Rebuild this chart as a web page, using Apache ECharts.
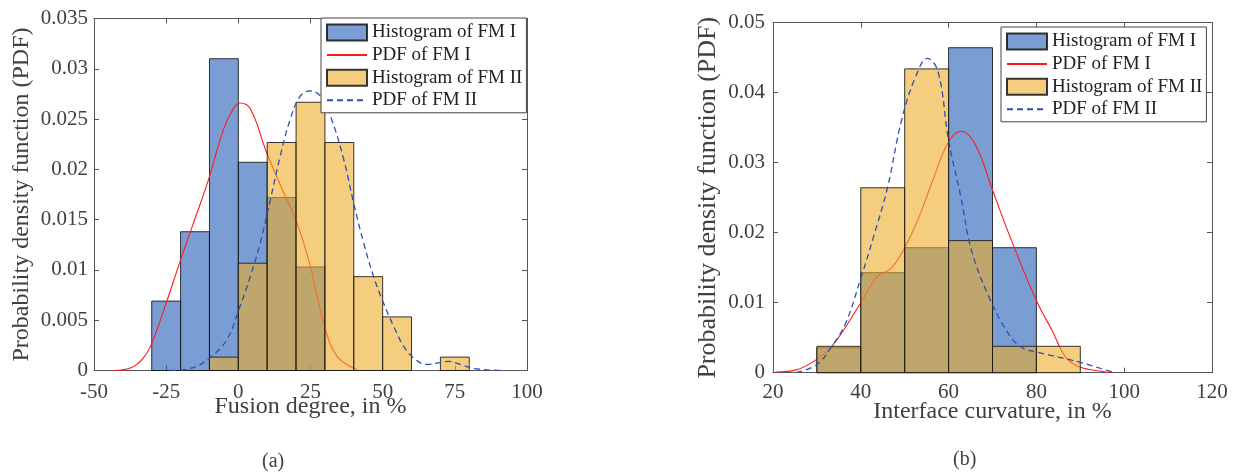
<!DOCTYPE html>
<html>
<head>
<meta charset="utf-8">
<script src="https://cdn.jsdelivr.net/npm/echarts@6/dist/echarts.min.js"></script>
<style>
  html, body { margin: 0; padding: 0; background: #fff; }
  #chart { width: 1237px; height: 473px; }
</style>
</head>
<body>
<div id="chart"></div>
<script>
// ---- (a) Fusion degree ----
const binEdgesA = [-30, -20, -10, 0, 10, 20, 30, 40, 50, 60, 70, 80];
const histFM1A = [0.0069, 0.0138, 0.031, 0.0207, 0.0172, 0.0103, 0, 0, 0, 0, 0];
const histFM2A = [0, 0, 0.00133, 0.01067, 0.02267, 0.02667, 0.02267, 0.00933, 0.00533, 0, 0.00133];
const pdfFM1A_x = [-43, -37, -33, -30, -25, -20, -15.5, -10.3, -5.1, -1.6, 0.6, 4.2, 9.9, 15.7, 20.3, 24.9, 29.6, 34.2, 41];
const pdfFM1A_y = [0, 0.0003, 0.0012, 0.0027, 0.0067, 0.011, 0.0147, 0.019, 0.024, 0.0261, 0.0266, 0.026, 0.0216, 0.0177, 0.0147, 0.0104, 0.0047, 0.0014, 0.0001];
const pdfFM2A_x = [-23.6, -16.6, -9.7, -3.9, 0.1, 4.2, 7.6, 11.1, 14.5, 18, 21.5, 24.9, 28.4, 31.9, 36.5, 39.9, 43.4, 46.8, 50.3, 53.8, 57.3, 61.3, 65.4, 70, 72.9, 76.9, 81.5, 90.8];
const pdfFM2A_y = [0, 0.0002, 0.0013, 0.0031, 0.006, 0.0094, 0.0127, 0.017, 0.0213, 0.025, 0.0273, 0.0278, 0.0273, 0.0253, 0.021, 0.0167, 0.0127, 0.0094, 0.0067, 0.0044, 0.0024, 0.0011, 0.0006, 0.0008, 0.0009, 0.0006, 0.0002, 0];

// ---- (b) Interface curvature ----
const binEdgesB = [30, 40, 50, 60, 70, 80, 90];
const histFM1B = [0.00357, 0.01429, 0.01786, 0.04643, 0.01786, 0];
const histFM2B = [0.00377, 0.02642, 0.0434, 0.01887, 0.00377, 0.00377];
const pdfFM1B_x = [20.6, 25.3, 29.7, 33.3, 36.5, 40.1, 43.7, 46.9, 50.1, 53.3, 56.4, 60, 62.8, 66, 70, 74, 80, 83.6, 86.7, 89.9, 94.7, 97.1];
const pdfFM1B_y = [0.0001, 0.0004, 0.0018, 0.0037, 0.0065, 0.0101, 0.0137, 0.0149, 0.018, 0.0223, 0.0275, 0.033, 0.0345, 0.0327, 0.0261, 0.0194, 0.0103, 0.006, 0.0022, 0.0008, 0.0002, 0];
const pdfFM2B_x = [25.3, 30.1, 33.3, 36.5, 40.1, 42.9, 46.1, 49.3, 52.5, 55.2, 57.6, 60, 62.8, 65.2, 69.2, 73.2, 76.4, 80.4, 85.2, 89.9, 94.7, 97.9];
const pdfFM2B_y = [0, 0.0012, 0.0037, 0.007, 0.0137, 0.0194, 0.0265, 0.0361, 0.0423, 0.0449, 0.043, 0.0332, 0.0251, 0.0175, 0.0108, 0.006, 0.0037, 0.0029, 0.0022, 0.0015, 0.0006, 0];

const xTicksA = { min: -50, max: 100, interval: 25 };
const yTicksA = { min: 0, max: 0.035, interval: 0.005 };
const xTicksB = { min: 20, max: 120, interval: 20 };
const yTicksB = { min: 0, max: 0.05, interval: 0.01 };

const names = ['Histogram of FM I', 'PDF of FM I', 'Histogram of FM II', 'PDF of FM II'];

const SERIF = '"Liberation Serif", "Times New Roman", serif';
const TEXT = '#404040';
const AXIS = '#555';
const BLUE = 'rgba(33, 93, 183, 0.6)';
const ORANGE = 'rgba(236, 172, 40, 0.6)';
const EDGE = 'rgba(20, 20, 20, 0.85)';
const RED = '#ff1a1a';
const DASH_BLUE = '#2f4fb0';

function binData(edges, values) {
  const out = [];
  for (let i = 0; i < values.length; i++) {
    if (values[i] > 0) out.push([edges[i], edges[i + 1], values[i]]);
  }
  return out;
}
function pairs(xs, ys) { return xs.map((x, i) => [x, ys[i]]); }

function histSeries(name, edges, values, color, axisIdx, z) {
  return {
    type: 'custom', name, xAxisIndex: axisIdx, yAxisIndex: axisIdx, z,
    itemStyle: { color, borderColor: EDGE, borderWidth: 1 },
    encode: { x: [0, 1], y: 2 },
    data: binData(edges, values),
    renderItem(params, api) {
      const p0 = api.coord([api.value(0), api.value(2)]);
      const p1 = api.coord([api.value(1), 0]);
      return {
        type: 'rect',
        shape: { x: p0[0], y: p0[1], width: p1[0] - p0[0], height: p1[1] - p0[1] },
        style: { fill: color, stroke: EDGE, lineWidth: 1 }
      };
    }
  };
}
function pdfSeries(name, xs, ys, color, dashed, axisIdx, z) {
  return {
    type: 'line', name, xAxisIndex: axisIdx, yAxisIndex: axisIdx, z,
    symbol: 'none', smooth: 0.4,
    lineStyle: { color, width: dashed ? 1.3 : 1.1, type: dashed ? [6, 4] : 'solid' },
    itemStyle: { color },
    data: pairs(xs, ys)
  };
}

function xAxes(grid, ticks, title, gap, margin) {
  const common = {
    gridIndex: grid, type: 'value', ...ticks,
    splitLine: { show: false },
    axisLine: { show: true, onZero: false, lineStyle: { color: AXIS, width: 1 } },
    axisTick: { show: true, inside: true, length: 5, lineStyle: { color: AXIS } }
  };
  return [
    { ...common, position: 'bottom', name: title, nameLocation: 'middle', nameGap: gap, nameMoveOverlap: false,
      nameTextStyle: { fontFamily: SERIF, fontSize: 24, color: TEXT },
      axisLabel: { show: true, margin, fontFamily: SERIF, fontSize: 21, color: TEXT, showMinLabel: true, showMaxLabel: true } },
    { ...common, position: 'top', axisLabel: { show: false } }
  ];
}
function yAxes(grid, ticks, title, gap, margin, titleSize) {
  const common = {
    gridIndex: grid, type: 'value', ...ticks,
    splitLine: { show: false },
    axisLine: { show: true, onZero: false, lineStyle: { color: AXIS, width: 1 } },
    axisTick: { show: true, inside: true, length: 5, lineStyle: { color: AXIS } }
  };
  return [
    { ...common, position: 'left', name: title, nameLocation: 'middle', nameGap: gap, nameMoveOverlap: false,
      nameTextStyle: { fontFamily: SERIF, fontSize: titleSize, color: TEXT },
      axisLabel: { show: true, margin, fontFamily: SERIF, fontSize: 21, color: TEXT, showMinLabel: true, showMaxLabel: true,
        formatter: v => String(+v.toFixed(3)) } },
    { ...common, position: 'right', axisLabel: { show: false } }
  ];
}

function legendAt(left, top) {
  // line entries keep only their stroke in the key (no marker dot)
  const lineKey = { opacity: 0 };
  return {
    left, top, orient: 'vertical', z: 20,
    itemWidth: 40, itemHeight: 16, itemGap: 3.6,
    padding: [5, 4, 3, 5],
    borderColor: '#444', borderWidth: 1, borderRadius: 0, backgroundColor: '#fff',
    selectedMode: false,
    textStyle: { fontFamily: SERIF, fontSize: 19, color: '#222', lineHeight: 19 },
    data: [
      { name: names[0], icon: 'rect' },
      { name: names[1], itemStyle: lineKey },
      { name: names[2], icon: 'rect' },
      { name: names[3], itemStyle: lineKey }
    ]
  };
}

const chart = echarts.init(document.getElementById('chart'), null, { renderer: 'canvas' });
chart.setOption({
  animation: false,
  backgroundColor: '#fff',
  grid: [
    { left: 94, top: 18.5, width: 433, height: 352 },
    { left: 773, top: 22.7, width: 439, height: 350 }
  ],
  xAxis: [
    ...xAxes(0, xTicksA, 'Fusion degree, in %', 24, 11),
    ...xAxes(1, xTicksB, 'Interface curvature, in %', 27, 9)
  ],
  yAxis: [
    ...yAxes(0, yTicksA, 'Probability density function (PDF)', 60, 6, 24),
    ...yAxes(1, yTicksB, 'Probability density function (PDF)', 52, 8, 26)
  ],
  legend: [legendAt(321, 18), legendAt(1001, 27)],
  graphic: [
    { type: 'text', left: 262, top: 452, style: { text: '(a)', font: '20px ' + SERIF, fill: TEXT } },
    { type: 'text', left: 953, top: 450, style: { text: '(b)', font: '20px ' + SERIF, fill: TEXT } }
  ],
  series: [
    histSeries(names[0], binEdgesA, histFM1A, BLUE, 0, 2),
    pdfSeries(names[1], pdfFM1A_x, pdfFM1A_y, RED, false, 0, 3),
    histSeries(names[2], binEdgesA, histFM2A, ORANGE, 0, 4),
    pdfSeries(names[3], pdfFM2A_x, pdfFM2A_y, DASH_BLUE, true, 0, 5),

    histSeries(names[0], binEdgesB, histFM1B, BLUE, 2, 2),
    pdfSeries(names[1], pdfFM1B_x, pdfFM1B_y, RED, false, 2, 3),
    histSeries(names[2], binEdgesB, histFM2B, ORANGE, 2, 4),
    pdfSeries(names[3], pdfFM2B_x, pdfFM2B_y, DASH_BLUE, true, 2, 5)
  ]
});
</script>
</body>
</html>
